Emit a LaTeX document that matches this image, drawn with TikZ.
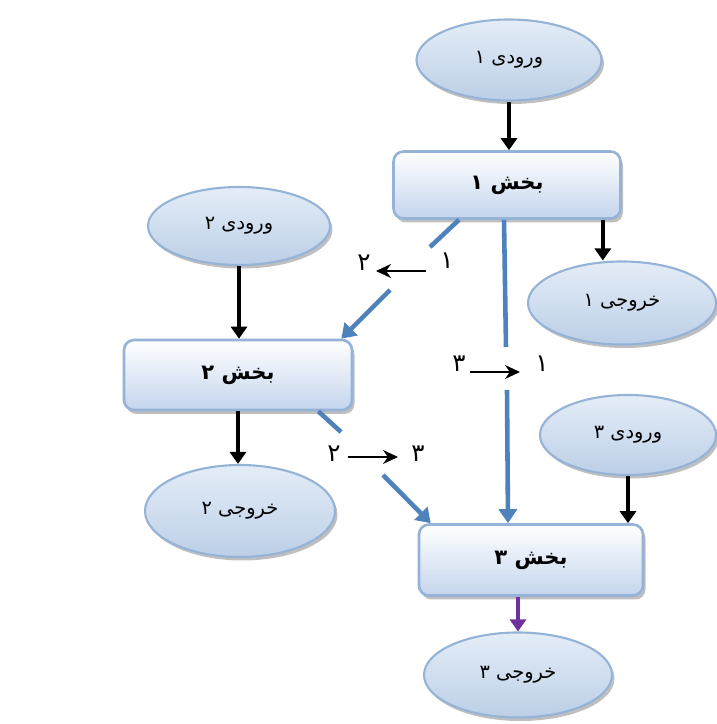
\documentclass[tikz,border=0pt]{standalone}
\usepackage{fontspec}
\usetikzlibrary{positioning,shapes.geometric,shadows,arrows.meta}
\TeXXeTstate=1
\newfontfamily\fafont[Script=Arabic]{DejaVu Sans}
\newcommand{\fa}[1]{{\fafont\beginR #1\endR}}
\definecolor{rim}{RGB}{149,179,215}
\definecolor{flow}{RGB}{79,129,189}
\definecolor{outflow}{RGB}{112,48,160}
\definecolor{ioTop}{RGB}{228,237,247}
\definecolor{ioBot}{RGB}{188,207,231}
\definecolor{partBot}{RGB}{196,213,237}

\begin{document}
\begin{tikzpicture}
    \tikzset{
        io/.style = {ellipse, draw=rim, line width=1.2pt, top color=ioTop, bottom color=ioBot,
                     minimum width=3.7cm, minimum height=1.62cm, font=\fontsize{11}{13}\selectfont,
                     drop shadow={shadow xshift=0.05cm, shadow yshift=-0.07cm, fill=black!50, opacity=0.5}},
        part/.style = {rectangle, rounded corners=0.2cm, draw=rim, line width=1.5pt, top color=white, bottom color=partBot,
                       minimum width=4.52cm, minimum height=1.38cm, font=\bfseries\fontsize{12}{14}\selectfont,
                       drop shadow={shadow xshift=0.05cm, shadow yshift=-0.08cm, fill=black!50, opacity=0.5}},
        feed/.style = {line width=2.2pt, -{Triangle[width=0.32cm,length=0.24cm]}},
        pass/.style = {flow, line width=2.6pt},
        passarrow/.style = {pass, -{Triangle[width=0.36cm,length=0.28cm]}},
        exitflow/.style = {outflow, line width=2.4pt, -{Triangle[width=0.32cm,length=0.24cm]}},
        tag/.style = {font=\fontsize{14}{16}\selectfont, inner sep=1pt},
        tagarrow/.style = {line width=0.9pt, -{Stealth[length=0.3cm,width=0.28cm]}},
    }
    \useasboundingbox (0,0) rectangle (14.34,14.48);

    \node (in1) [io] at (10.18,13.28) {\fa{ورودی ۱}};
    \node (b1) [part, minimum width=4.54cm, minimum height=1.34cm] at (10.14,10.78) {\fa{بخش ۱}};
    \node (in2) [io, minimum width=3.64cm, minimum height=1.56cm] at (4.78,9.96) {\fa{ورودی ۲}};
    \node (out1) [io, minimum width=3.76cm, minimum height=1.66cm] at (12.44,8.42) {\fa{خروجی ۱}};
    \node (b2) [part, minimum width=4.56cm, minimum height=1.4cm] at (4.76,6.98) {\fa{بخش ۲}};
    \node (in3) [io, minimum width=3.52cm, minimum height=1.6cm] at (12.56,5.78) {\fa{ورودی ۳}};
    \node (out2) [io, minimum width=3.8cm, minimum height=1.84cm] at (4.8,4.26) {\fa{خروجی ۲}};
    \node (b3) [part, minimum width=4.48cm, minimum height=1.42cm] at (10.62,3.28) {\fa{بخش ۳}};
    \node (out3) [io, minimum width=3.76cm, minimum height=1.7cm] at (10.36,0.98) {\fa{خروجی ۳}};

    \draw [feed] (in1.south) -- (in1.south |- b1.north);
    \draw [feed] (in2.south) -- (in2.south |- b2.north);
    \draw [feed] ([xshift=-0.38cm]b1.south east) -- ([xshift=-0.38cm]b1.south east |- out1.north);
    \draw [feed] (b2.south) -- (b2.south |- out2.north);
    \draw [feed] (in3.south) -- (in3.south |- b3.north);
    \draw [exitflow] (out3.north |- b3.south) -- (out3.north);

    \coordinate (g1a) at (8.6,9.54);
    \coordinate (g1b) at (7.8,8.68);
    \coordinate (g2a) at (10.12,7.54);
    \coordinate (g2b) at (10.14,6.68);
    \coordinate (g3a) at (6.82,5.84);
    \coordinate (g3b) at (7.66,4.98);
    \draw [pass] ([xshift=-0.96cm]b1.south) -- (g1a);
    \draw [passarrow] (g1b) -- ([xshift=-0.24cm]b2.north east);
    \draw [pass] ([xshift=-0.06cm]b1.south) -- (g2a);
    \draw [passarrow] (g2b) -- ([xshift=-0.46cm]b3.north);
    \draw [pass] ([xshift=-0.7cm]b2.south east) -- (g3a);
    \draw [passarrow] (g3b) -- ([xshift=0.26cm]b3.north west);

    \node (t1from) [tag] at (8.94,9.26) {\fa{۱}};
    \node (t1to) [tag] at (7.28,9.22) {\fa{۲}};
    \coordinate (a1s) at (8.52,9.06);
    \coordinate (a1e) at (7.52,9.06);
    \draw [tagarrow] (a1s) -- (a1e);

    \node (t2from) [tag] at (9.18,7.2) {\fa{۳}};
    \node (t2to) [tag] at (10.84,7.2) {\fa{۱}};
    \coordinate (a2s) at (9.4,7.04);
    \coordinate (a2e) at (10.4,7.04);
    \draw [tagarrow] (a2s) -- (a2e);

    \node (t3from) [tag] at (6.68,5.4) {\fa{۲}};
    \node (t3to) [tag] at (8.36,5.4) {\fa{۳}};
    \coordinate (a3s) at (6.96,5.34);
    \coordinate (a3e) at (7.96,5.34);
    \draw [tagarrow] (a3s) -- (a3e);
\end{tikzpicture}
\end{document}
